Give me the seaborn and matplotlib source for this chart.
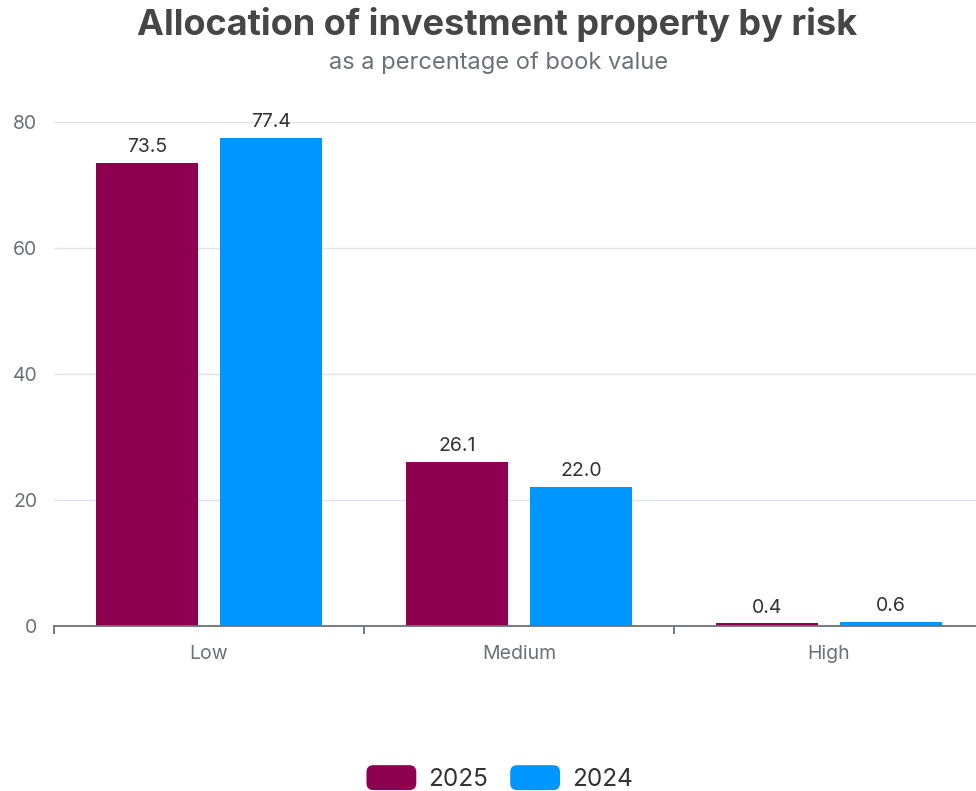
import matplotlib
matplotlib.use("Agg")
import matplotlib.pyplot as plt
from matplotlib.patches import FancyBboxPatch, Patch
from matplotlib.legend_handler import HandlerPatch
import seaborn as sns
import pandas as pd

# Data
categories = ["Low", "Medium", "High"]
years = ["2025", "2024"]
values_2025 = [73.5, 26.1, 0.4]
values_2024 = [77.4, 22.0, 0.6]
colors = {"2025": "#8e0050", "2024": "#0096ff"}

df = pd.DataFrame({
    "risk": categories * 2,
    "year": [years[0]] * 3 + [years[1]] * 3,
    "value": values_2025 + values_2024,
})

sns.set_theme(style="white")
plt.rcParams["font.family"] = ["Inter", "DejaVu Sans"]

fig = plt.figure(figsize=(9.76, 7.91), dpi=100)
ax = fig.add_axes([54 / 976, 1 - 626 / 791, 930 / 976, (626 - 122) / 791])

sns.barplot(data=df, x="risk", y="value", hue="year", order=categories,
            hue_order=years, palette=colors, width=0.8, gap=0.17,
            saturation=1, ax=ax, legend=False, linewidth=0)

# Value labels
for cont in ax.containers:
    ax.bar_label(cont, fmt="%.1f", padding=5, fontsize=14, color="#333333")

ax.set_xlim(-0.5, 2.5)
ax.set_ylim(0, 80)
ax.set_yticks([0, 20, 40, 60, 80])
ax.yaxis.grid(True, color="#e0e3ee", linewidth=1)
ax.set_axisbelow(True)
for s in ["top", "right", "left"]:
    ax.spines[s].set_visible(False)
ax.spines["bottom"].set_color("#6e7079")
ax.spines["bottom"].set_linewidth(1.3)

ax.set_xlabel("")
ax.set_ylabel("")
ax.tick_params(axis="y", length=0, pad=12, labelsize=14, labelcolor="#6e7079")
ax.tick_params(axis="x", which="major", bottom=False, length=0, pad=13.5,
               labelsize=14, labelcolor="#6e7079")
# Category separator ticks
ax.set_xticks([-0.5, 0.5, 1.5, 2.5], minor=True)
ax.tick_params(axis="x", which="minor", bottom=True, length=6, width=1.3,
               color="#6e7079", direction="out")

# Title and subtitle
fig.text(0.509, 1 - 24 / 791, "Allocation of investment property by risk",
         ha="center", va="center", fontsize=26, fontweight="bold", color="#464646")
fig.text(0.511, 1 - 63 / 791, "as a percentage of book value",
         ha="center", va="center", fontsize=17, color="#6e7079")


class RoundedHandler(HandlerPatch):
    def create_artists(self, legend, orig_handle, xdescent, ydescent,
                       width, height, fontsize, trans):
        p = FancyBboxPatch((-xdescent, -ydescent), width, height,
                           boxstyle="round,pad=0,rounding_size=5",
                           facecolor=orig_handle.get_facecolor(),
                           edgecolor="none", transform=trans)
        return [p]


handles = [Patch(facecolor=colors[y], label=y) for y in years]
fig.legend(handles=handles, loc="center", bbox_to_anchor=(0.512, 1 - 778 / 791),
           ncol=2, frameon=False, fontsize=17.5, handlelength=2.05,
           handleheight=1.2, handletextpad=0.5, columnspacing=0.9,
           handler_map={Patch: RoundedHandler()}, labelcolor="#333333")

fig.savefig("out.png", dpi=100)
